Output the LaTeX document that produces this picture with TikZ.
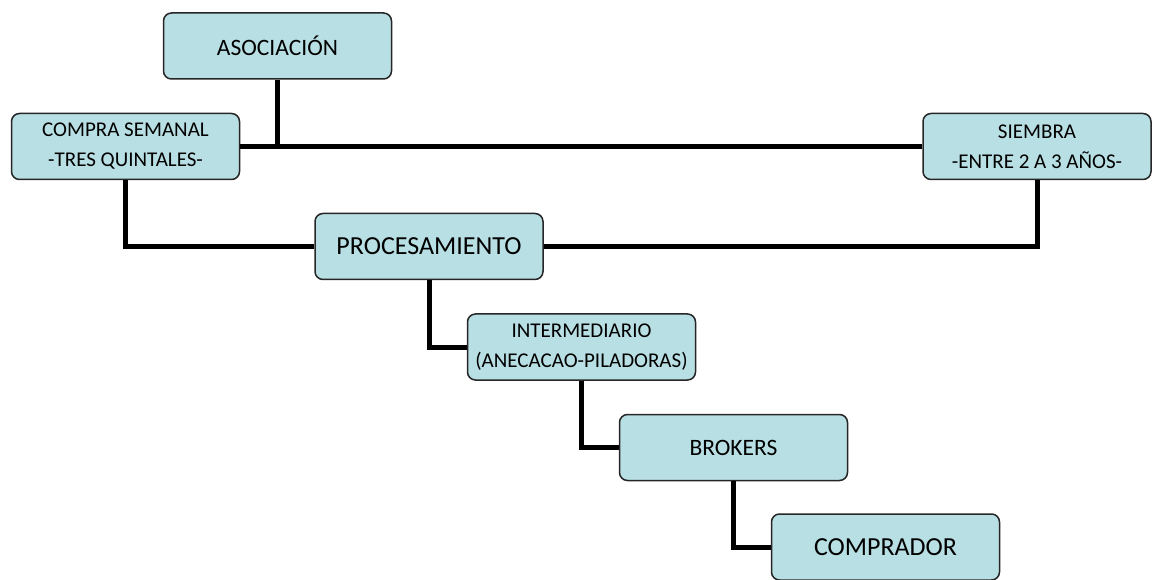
\documentclass[tikz,border=0pt]{standalone}
\usepackage{fontspec}
\setmainfont{Carlito}
\usepackage{tikz}
\definecolor{celeste}{RGB}{184,223,227}
\tikzstyle{bx}=[rectangle,rounded corners=8pt,draw=black!85,line width=1.5pt,fill=celeste,minimum width=228pt,minimum height=66pt,inner sep=0pt,align=center]
\tikzstyle{chico}=[font=\fontsize{21}{30}\selectfont]
\tikzstyle{medio}=[font=\fontsize{23.5}{28}\selectfont]
\tikzstyle{grande}=[font=\fontsize{26}{30}\selectfont]
\tikzstyle{cx}=[line width=5pt,line join=miter]

\begin{document}
\begin{tikzpicture}[x=1pt,y=-1pt]
\useasboundingbox (0,0) rectangle (1152,580);
\node[bx,medio] (asoc) at (277.5,46) {ASOCIACIÓN};
\node[bx,chico] (compra) at (125.5,146.5) {COMPRA SEMANAL\\-TRES QUINTALES-};
\node[bx,chico] (siembra) at (1037,146.5) {SIEMBRA\\-ENTRE 2 A 3 AÑOS-};
\node[bx,grande] (proc) at (429,246.5) {PROCESAMIENTO};
\node[bx,chico] (inter) at (581.5,347) {INTERMEDIARIO\\(ANECACAO-PILADORAS)};
\node[bx,medio] (brok) at (733.5,447.5) {BROKERS};
\node[bx,grande] (compr) at (885.5,547) {COMPRADOR};
\draw[cx] (compra.east) -- (siembra.west);
\draw[cx] (asoc.south) -- (asoc.south |- compra.east);
\draw[cx] (compra.south) |- (proc.west);
\draw[cx] (siembra.south) |- (proc.east);
\draw[cx] (proc.south) |- (inter.west);
\draw[cx] (inter.south) |- (brok.west);
\draw[cx] (brok.south) |- (compr.west);
\end{tikzpicture}
\end{document}
